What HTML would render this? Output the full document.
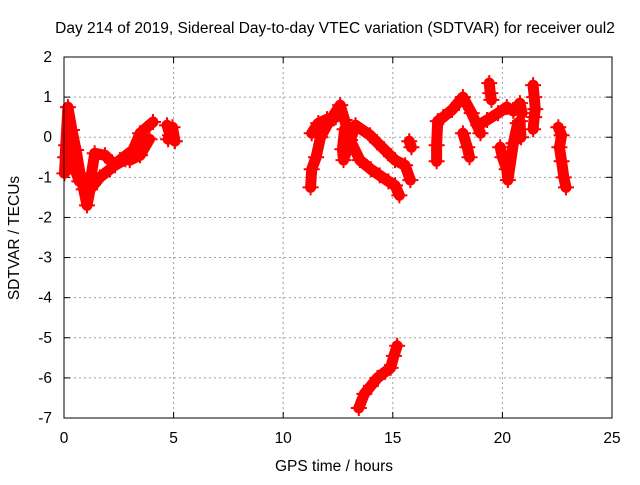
<!DOCTYPE html>
<html><head><meta charset="utf-8"><style>
body{margin:0;background:#fff;}
svg text{font-family:"Liberation Sans",sans-serif;font-size:15.5px;fill:#000;}
</style></head><body>
<svg id="chart" width="640" height="480" viewBox="0 0 640 480" xmlns="http://www.w3.org/2000/svg">
<rect width="640" height="480" fill="#fff"/>
<text x="335" y="33" text-anchor="middle">Day 214 of 2019, Sidereal Day-to-day VTEC variation (SDTVAR) for receiver oul2</text>
<text x="334" y="471" text-anchor="middle">GPS time / hours</text>
<text transform="translate(19,238) rotate(-90)" text-anchor="middle">SDTVAR / TECUs</text>
<g id="grid"></g><g id="ticks"></g><g id="marks"></g>
<rect x="64" y="57" width="548" height="361" fill="none" stroke="#000" stroke-width="1"/>
</svg>
<script>
const xTicks=[0,5,10,15,20,25];
const yTicks=[2,1,0,-1,-2,-3,-4,-5,-6,-7];
const sA_t=[0.05,0.18,0.36,0.55,0.73,0.9,1.05,1.19,1.64,2.1,2.55,3.15,3.47,4.06];
const sA_v=[-0.5,0.75,0.18,-0.32,-0.9,-1.3,-1.7,-1.3,-1.0,-0.8,-0.57,-0.32,0.1,0.38];
const sB_t=[0.02,0.1,0.3,0.5,0.7];
const sB_v=[-0.9,-0.2,-0.5,-0.8,-1.1];
const sC_t=[1.2,1.4,1.87,2.33,2.8,3.0,3.47,3.9];
const sC_v=[-1.1,-0.4,-0.45,-0.7,-0.55,-0.57,-0.45,-0.05];
const sD_t=[4.7,4.84,5.06,4.95,4.75];
const sD_v=[0.3,0.05,-0.1,0.25,-0.05];
const sE_t=[11.25,11.3,11.5,11.7,12.0,12.3,12.6,12.8,13.05,13.5,14.0,14.4,14.8,15.1,15.3];
const sE_v=[-1.25,-0.8,-0.5,0.0,0.3,0.55,0.8,0.43,-0.07,-0.57,-0.8,-0.95,-1.1,-1.2,-1.45];
const sF_t=[11.3,11.6,12.0,12.4];
const sF_v=[0.1,0.35,0.45,0.5];
const sG_t=[12.8,12.7,12.75,13.3,13.96,14.6,15.1,15.56,15.8];
const sG_v=[0.2,-0.3,-0.57,0.3,0.05,-0.3,-0.57,-0.7,-1.07];
const sH_t=[15.75,15.85];
const sH_v=[-0.1,-0.25];
const sI_t=[13.45,13.7,14.0,14.3,14.65,14.9,15.05,15.2];
const sI_v=[-6.75,-6.4,-6.2,-6.0,-5.85,-5.75,-5.45,-5.2];
const sJ_t=[17.0,17.0,17.05,17.3,17.7,18.2,18.6,19.0];
const sJ_v=[-0.6,-0.2,0.4,0.5,0.68,1.0,0.6,0.1];
const sK_t=[18.2,18.4,18.5];
const sK_v=[0.1,-0.25,-0.5];
const sL_t=[18.9,19.3,19.8,20.2,20.5,20.8,20.9];
const sL_v=[0.3,0.43,0.6,0.75,0.65,0.85,0.6];
const sM_t=[19.4,19.45,19.5];
const sM_v=[1.35,1.1,0.93];
const sN_t=[19.9,20.0,20.2,20.25,20.5,20.7];
const sN_v=[-0.25,-0.5,-0.8,-1.07,-0.15,0.35];
const sO_t=[20.8,20.85];
const sO_v=[0.4,0.0];
const sP_t=[21.4,21.45,21.5,21.45,21.4];
const sP_v=[1.3,1.0,0.7,0.5,0.2];
const sQ_t=[22.55,22.7,22.6,22.7,22.8,22.9];
const sQ_v=[0.25,0.05,-0.25,-0.6,-1.0,-1.25];
const series=[[sA_t,sA_v],[sB_t,sB_v],[sC_t,sC_v],[sD_t,sD_v],[sE_t,sE_v],[sF_t,sF_v],[sG_t,sG_v],[sH_t,sH_v],[sI_t,sI_v],[sJ_t,sJ_v],[sK_t,sK_v],[sL_t,sL_v],[sM_t,sM_v],[sN_t,sN_v],[sO_t,sO_v],[sP_t,sP_v],[sQ_t,sQ_v]];
const X0=64,X1=612,Y0=418,Y1=57;
function xs(t){return X0+(t-0)/(25-0)*(X1-X0);}
function ys(v){return Y0-(v+7)/(2+7)*(Y0-Y1);}
const NS="http://www.w3.org/2000/svg";
function mk(tag,attrs,parent){const e=document.createElementNS(NS,tag);for(const k in attrs)e.setAttribute(k,attrs[k]);parent.appendChild(e);return e;}
const grid=document.getElementById('grid'),ticks=document.getElementById('ticks'),marks=document.getElementById('marks');
xTicks.forEach(t=>{const x=xs(t);
 if(t>0&&t<25){const l=mk('line',{x1:x,x2:x,y1:Y1,y2:Y0,stroke:'#a0a0a0','stroke-dasharray':'2,3'},grid);
 
 }
 mk('line',{x1:x,x2:x,y1:Y0,y2:Y0-6,stroke:'#000'},ticks);
 mk('line',{x1:x,x2:x,y1:Y1,y2:Y1+6,stroke:'#000'},ticks);
 const tx=mk('text',{x:x,y:443,'text-anchor':'middle'},ticks);tx.textContent=t;
 
 });
yTicks.forEach(v=>{const y=ys(v);
 if(v<2&&v>-7){const l=mk('line',{x1:X0,x2:X1,y1:y,y2:y,stroke:'#a0a0a0','stroke-dasharray':'2,3'},grid);
 
 }
 mk('line',{x1:X0,x2:X0+6,y1:y,y2:y,stroke:'#000'},ticks);
 mk('line',{x1:X1,x2:X1-6,y1:y,y2:y,stroke:'#000'},ticks);
 const tx=mk('text',{x:52,y:y+5,'text-anchor':'end'},ticks);tx.textContent=v;
 
 });
series.forEach((s,i)=>{const [ts,vs]=s;
 const d=ts.map((t,j)=>(j?'L':'M')+xs(t).toFixed(1)+','+ys(vs[j]).toFixed(1)).join(' ');
 const p=mk('path',{d:d,fill:'none',stroke:'#ff0000','stroke-width':11,'stroke-linejoin':'round','stroke-linecap':'round'},marks);
 
 
 ts.forEach((t,j)=>{const x=xs(t),y=ys(vs[j]);
  const m=mk('path',{d:`M${x-8},${y}H${x+8}M${x},${y-8}V${y+8}`,stroke:'#ff0000','stroke-width':2},marks);
  
  });});
</script>
</body></html>
